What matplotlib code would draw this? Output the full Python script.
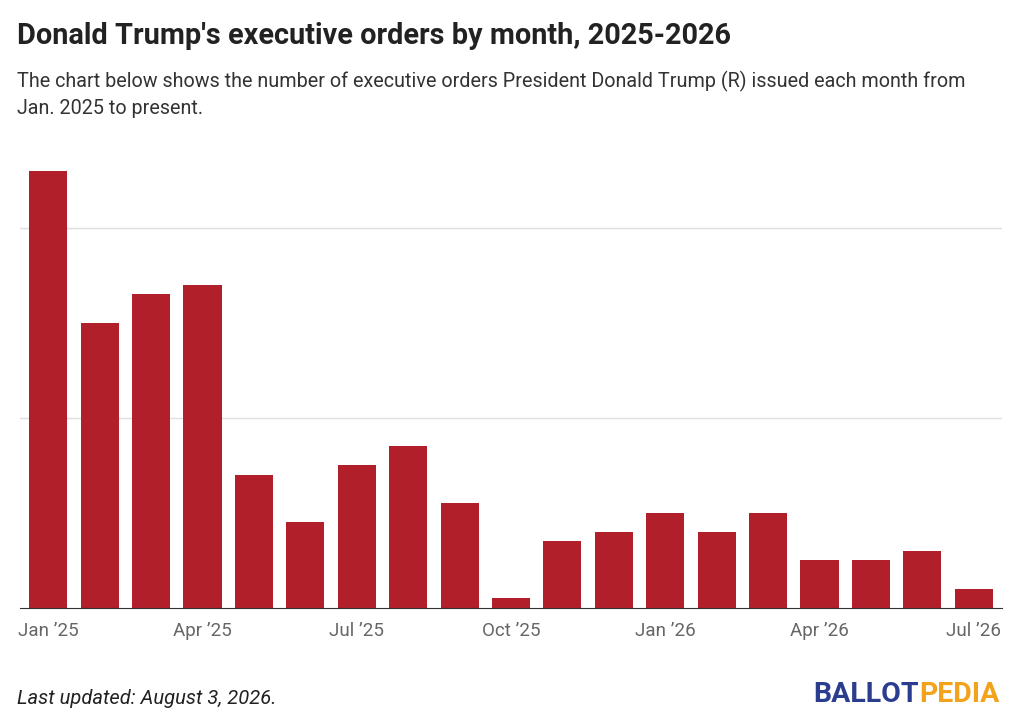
import matplotlib.pyplot as plt
import numpy as np

plt.rcParams['font.family'] = ['Roboto', 'DejaVu Sans']

# -------- DATA --------
months = ["Jan '25", "Feb '25", "Mar '25", "Apr '25", "May '25", "Jun '25", "Jul '25",
          "Aug '25", "Sep '25", "Oct '25", "Nov '25", "Dec '25", "Jan '26", "Feb '26",
          "Mar '26", "Apr '26", "May '26", "Jun '26", "Jul '26"]
orders = [46, 30, 33, 34, 14, 9, 15, 17, 11, 1, 7, 8, 10, 8, 10, 5, 5, 6, 2]
tick_labels = ["Jan \u201925", "Apr \u201925", "Jul \u201925", "Oct \u201925",
               "Jan \u201926", "Apr \u201926", "Jul \u201926"]

# -------- PLOT --------
fig = plt.figure(figsize=(10.24, 7.27), dpi=100)
ax = fig.add_axes([20 / 1024, 1 - 608 / 727, 982 / 1024, 460 / 727])

x = np.arange(len(orders))
ax.bar(x, orders, width=0.74, color='#b01f2a', zorder=2)
ax.set_xlim(-0.55, len(orders) - 0.45)
ax.set_ylim(0, 48.4)

ax.set_yticks([20, 40])
ax.yaxis.grid(True, color='#e0e0e0', linewidth=1, zorder=0)
ax.tick_params(axis='y', left=False, labelleft=False)
ax.set_xticks(x[::3])
ax.set_xticklabels(tick_labels, fontsize=13.5, color='#666666')
ax.tick_params(axis='x', length=0, pad=10)
for s in ['top', 'right', 'left']:
    ax.spines[s].set_visible(False)
ax.spines['bottom'].set_color('#333333')

fig.text(17 / 1024, 1 - 36 / 727, "Donald Trump's executive orders by month, 2025-2026",
         fontsize=20.8, fontweight='bold', color='#222222', va='center')
fig.text(17 / 1024, 1 - 81 / 727,
         "The chart below shows the number of executive orders President Donald Trump (R) issued each month from",
         fontsize=14.2, color='#333333', va='center')
fig.text(17 / 1024, 1 - 108 / 727, "Jan. 2025 to present.",
         fontsize=14.2, color='#333333', va='center')
fig.text(17 / 1024, 1 - 698 / 727, "Last updated: August 3, 2026.",
         fontsize=14.5, style='italic', color='#222222', va='center')
fig.text(813 / 1024, 1 - 695 / 727, "BALLOT", fontsize=20.5, fontweight='bold',
         color='#2b3d8f', va='center')
fig.text(919 / 1024, 1 - 695 / 727, "PEDIA", fontsize=20.5, fontweight='bold',
         color='#f2a31b', va='center')

fig.savefig("out.png", dpi=100)
